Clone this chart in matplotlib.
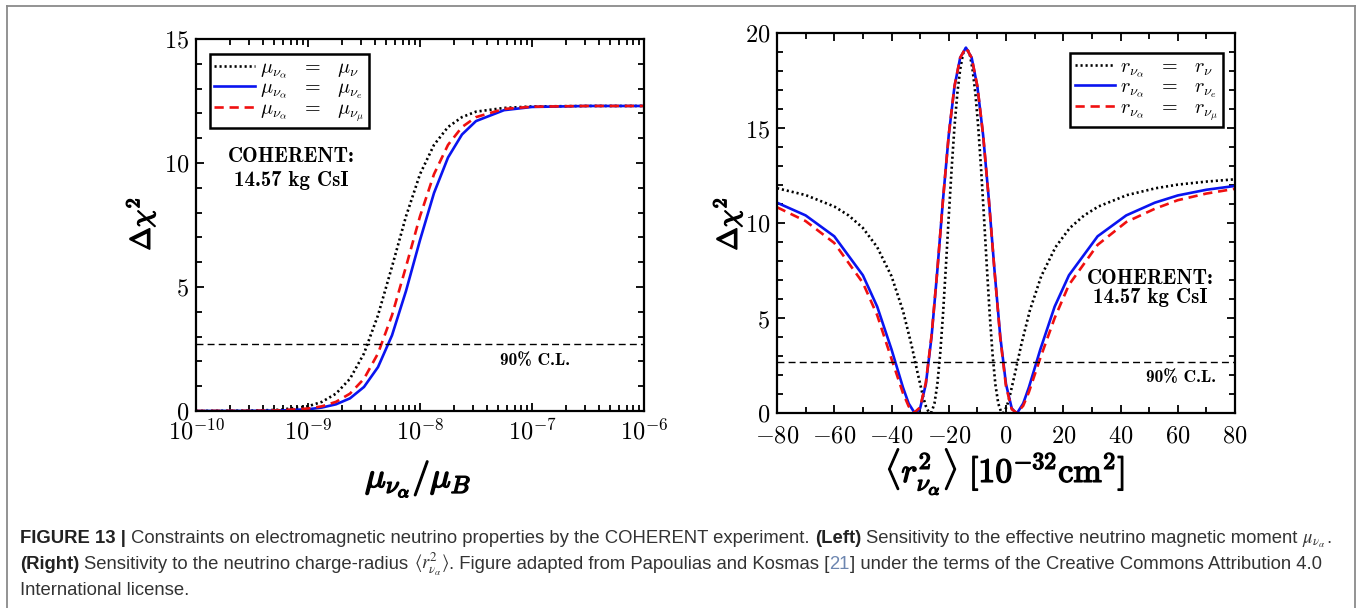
import matplotlib
matplotlib.use("Agg")
import matplotlib.pyplot as plt
import matplotlib.patheffects as pe
from matplotlib.ticker import FixedLocator, FuncFormatter, MultipleLocator, NullFormatter
import numpy as np

plt.rcParams['mathtext.fontset'] = 'cm'
plt.rcParams['font.family'] = ['DejaVu Serif']

# ---------------- data: magnetic moment sensitivity ----------------
mu_log10 = [-10.0, -9.5, -9.25, -9.0, -8.875, -8.75, -8.625, -8.5, -8.375, -8.25,
            -8.125, -8.0, -7.875, -7.75, -7.625, -7.5, -7.25, -7.0, -6.5, -6.0]
chi2_mu_nu = [0.0, 0.013, 0.05, 0.19, 0.37, 0.70, 1.30, 2.32, 3.86, 5.82,
              7.85, 9.55, 10.73, 11.45, 11.85, 12.07, 12.22, 12.28, 12.3, 12.3]
chi2_mu_e = [0.0, 0.005, 0.02, 0.07, 0.14, 0.27, 0.51, 0.97, 1.77, 3.05,
             4.84, 6.89, 8.79, 10.22, 11.15, 11.69, 12.13, 12.26, 12.3, 12.3]
chi2_mu_mu = [0.0, 0.007, 0.025, 0.10, 0.19, 0.37, 0.70, 1.30, 2.32, 3.86,
              5.82, 7.85, 9.55, 10.73, 11.45, 11.85, 12.18, 12.27, 12.3, 12.3]

# ---------------- data: charge radius sensitivity ----------------
r2_nu = [-80, -70, -60, -55, -50, -45, -40, -36, -33, -31, -29, -28, -27, -26.5, -26,
         -25, -24, -23, -22, -21, -20, -19, -18, -17, -16, -15, -13.85, -12.7, -11.7,
         -10.7, -9.7, -8.7, -7.7, -6.7, -5.7, -4.7, -3.7, -2.7, -1.7, -1.2, -0.7, 0.3,
         1.3, 3.3, 5.3, 8.3, 12.3, 17.3, 22.3, 27.3, 32.3, 42.3, 52.3, 60, 70, 80]
chi2_r_nu = [11.83, 11.47, 10.87, 10.4, 9.74, 8.73, 7.2, 5.38, 3.57, 2.19, 0.88, 0.36,
             0.045, 0.0, 0.05, 0.5, 1.49, 3.09, 5.21, 7.71, 10.34, 12.84, 15.06, 16.83,
             18.1, 18.92, 19.23, 18.92, 18.1, 16.83, 15.06, 12.84, 10.34, 7.71, 5.21,
             3.09, 1.49, 0.5, 0.05, 0.0, 0.045, 0.36, 0.88, 2.19, 3.57, 5.38, 7.2, 8.73,
             9.74, 10.4, 10.87, 11.47, 11.83, 12.02, 12.18, 12.3]

r2_e = [-80, -70, -60, -50, -45, -40, -38, -36, -34, -32, -31.5, -30, -28, -26, -24,
        -22, -20, -18, -16, -14, -12, -10, -8, -6, -4, -2, 0, 2, 3.5, 4, 6, 8, 10, 12,
        17, 22, 32, 42, 52, 60, 70, 80]
chi2_r_e = [11.07, 10.4, 9.3, 7.25, 5.6, 3.35, 2.35, 1.35, 0.5, 0.025, 0.0, 0.25, 1.52,
            4.02, 7.48, 11.24, 14.63, 17.18, 18.7, 19.23, 18.7, 17.18, 14.63, 11.24,
            7.48, 4.02, 1.52, 0.25, 0.0, 0.025, 0.5, 1.35, 2.35, 3.35, 5.6, 7.25, 9.3,
            10.4, 11.07, 11.45, 11.75, 11.95]

r2_mu = [-80, -70, -60, -50, -45, -40, -38, -36, -34, -32.2, -30, -28, -26, -24, -22,
         -20, -18, -16, -14, -12, -10, -8, -6, -4, -2, 0, 2, 3.8, 6, 8, 10, 12, 17, 22,
         32, 42, 52, 60, 70, 80]
chi2_r_mu = [10.83, 10.1, 8.95, 6.85, 5.15, 2.85, 1.95, 1.05, 0.35, 0.0, 0.3, 1.6, 4.1,
             7.5, 11.25, 14.65, 17.2, 18.7, 19.23, 18.7, 17.2, 14.65, 11.25, 7.45, 3.95,
             1.4, 0.2, 0.0, 0.38, 1.1, 2.0, 2.9, 5.0, 6.75, 8.85, 10.05, 10.75, 11.2,
             11.55, 11.8]

cl90 = 2.71

eq = r'\ \;\,=\ \;\,'
mu_labels = [r'$\mu_{\nu_\alpha}' + eq + r'\mu_{\nu}$',
             r'$\mu_{\nu_\alpha}' + eq + r'\mu_{\nu_e}$',
             r'$\mu_{\nu_\alpha}' + eq + r'\mu_{\nu_\mu}$']
r_labels = [r'$r_{\nu_\alpha}' + eq + r'r_{\nu}$',
            r'$r_{\nu_\alpha}' + eq + r'r_{\nu_e}$',
            r'$r_{\nu_\alpha}' + eq + r'r_{\nu_\mu}$']

# ---------------- figure layout (pixel based) ----------------
W, H = 1357, 608
fig = plt.figure(figsize=(W / 100, H / 100), dpi=100)


def rect(x0, y0, x1, y1):
    return [x0 / W, 1 - y1 / H, (x1 - x0) / W, (y1 - y0) / H]


def fx(x):
    return x / W


def fy(y):
    return 1 - y / H


axL = fig.add_axes(rect(196, 39, 644, 411))
axR = fig.add_axes(rect(777, 33, 1235, 413))

dot = dict(color='black', lw=1.9, ls=(0, (0.8, 1.1)))
solid = dict(color='#0a14f0', lw=1.9, ls='-')
dash = dict(color='#f01010', lw=1.9, ls=(0, (3.5, 2.2)))

mu_vals = [10.0 ** v for v in mu_log10]
axL.plot(mu_vals, chi2_mu_nu, label=mu_labels[0], **dot)
axL.plot(mu_vals, chi2_mu_e, label=mu_labels[1], **solid)
axL.plot(mu_vals, chi2_mu_mu, label=mu_labels[2], **dash)
axL.axhline(cl90, color='black', lw=1.0, ls=(0, (5, 3)))
axL.set_xscale('log')
axL.set_xlim(1e-10, 1e-6)
axL.set_ylim(0, 15)

axR.plot(r2_nu, chi2_r_nu, label=r_labels[0], **dot)
axR.plot(r2_e, chi2_r_e, label=r_labels[1], **solid)
axR.plot(r2_mu, chi2_r_mu, label=r_labels[2], **dash)
axR.axhline(cl90, color='black', lw=1.0, ls=(0, (5, 3)))
axR.set_xlim(-80, 80)
axR.set_ylim(0, 20)

tick_fs = 17.5
for ax in (axL, axR):
    for s in ax.spines.values():
        s.set_linewidth(1.6)
    ax.tick_params(which='both', direction='in', top=True, right=True, width=1.3,
                   labelsize=tick_fs)
    ax.tick_params(which='major', length=6)
    ax.tick_params(which='minor', length=4)
    ax.tick_params(axis='y', pad=5)
axL.tick_params(axis='x', pad=5.5)
axR.tick_params(axis='x', pad=8)

axL.xaxis.set_major_locator(FixedLocator([1e-10, 1e-9, 1e-8, 1e-7, 1e-6]))
axL.xaxis.set_major_formatter(FuncFormatter(lambda v, p: r'$10^{%d}$' % round(np.log10(v))))
minors = [m * 10.0 ** e for e in range(-10, -6) for m in range(2, 10)]
axL.xaxis.set_minor_locator(FixedLocator(minors))
axL.xaxis.set_minor_formatter(NullFormatter())
axL.yaxis.set_major_locator(MultipleLocator(5))
axL.yaxis.set_minor_locator(MultipleLocator(1))

axR.xaxis.set_major_locator(MultipleLocator(20))
axR.xaxis.set_minor_locator(MultipleLocator(10))
axR.yaxis.set_major_locator(MultipleLocator(5))
axR.yaxis.set_minor_locator(MultipleLocator(1))
int_fmt = FuncFormatter(lambda v, p: r'$%d$' % round(v))
for ax in (axL, axR):
    ax.yaxis.set_major_formatter(int_fmt)
axR.xaxis.set_major_formatter(int_fmt)


# axis labels, emboldened with a thin outline stroke
def heavy(w):
    return [pe.withStroke(linewidth=w, foreground='black')]


fig.text(fx(418), fy(479), r'$\mu_{\nu_\alpha}/\mu_B$', fontsize=25, ha='center',
         va='center', path_effects=heavy(1.1))
fig.text(fx(1005), fy(472), r'$\langle r^2_{\nu_\alpha} \rangle\ [10^{-32}\mathrm{cm}^2]$',
         fontsize=24.5, ha='center', va='center', path_effects=heavy(1.0))
for x in (140, 727):
    fig.text(fx(x), fy(224), r'$\Delta\chi^2$', fontsize=20, rotation=90, ha='center',
             va='center', path_effects=heavy(1.0))

# legends
leg_kw = dict(fontsize=14.5, frameon=True, fancybox=False, framealpha=1, edgecolor='black',
              borderaxespad=0, handlelength=2.0, handletextpad=0.25, labelspacing=-0.12,
              borderpad=0.22)
legL = axL.legend(loc='upper left', bbox_to_anchor=((210 - 196) / 448, 1 - (54 - 39) / 372),
                  **leg_kw)
legR = axR.legend(loc='upper right', bbox_to_anchor=((1223 - 777) / 458, 1 - (53 - 33) / 380),
                  **leg_kw)
for lg in (legL, legR):
    lg.get_frame().set_linewidth(1.8)

# in-panel annotations
bold_serif = 'cmb10'
ann = dict(family=bold_serif, ha='center', va='center')
fig.text(fx(291), fy(156), 'COHERENT:', fontsize=15, **ann)
fig.text(fx(291), fy(180), '14.57 kg CsI', fontsize=15, **ann)
fig.text(fx(1150), fy(278), 'COHERENT:', fontsize=15, **ann)
fig.text(fx(1150), fy(298), '14.57 kg CsI', fontsize=15, **ann)
fig.text(fx(535), fy(361), '90% C.L.', fontsize=12.5, **ann)
fig.text(fx(1181), fy(378), '90% C.L.', fontsize=12.5, **ann)

# outer frame lines
frame_col = '#8a8a8a'
fig.add_artist(plt.Line2D([fx(7), fx(1355)], [fy(6), fy(6)], color=frame_col, lw=1.3))
fig.add_artist(plt.Line2D([fx(7), fx(7)], [fy(6), fy(608)], color=frame_col, lw=1.3))
fig.add_artist(plt.Line2D([fx(1355), fx(1355)], [fy(6), fy(608)], color=frame_col, lw=1.3))

# ---------------- caption ----------------
cap_col = '#333333'
sans = 'Liberation Sans'
renderer = fig.canvas.get_renderer()

line1 = [("FIGURE 13 |", dict(weight='bold', color='#222222'), True),
         ("Constraints on electromagnetic neutrino properties by the COHERENT experiment.", {}, True),
         ("(Left)", dict(weight='bold', color='#222222'), True),
         ("Sensitivity to the effective neutrino magnetic moment", {}, True),
         (r'$\mu_{\nu_\alpha}$', dict(math_fontfamily='stix'), False),
         (".", {}, False)]
line2 = [("(Right)", dict(weight='bold', color='#222222'), True),
         ("Sensitivity to the neutrino charge-radius", {}, True),
         (r'$\langle r^2_{\nu_\alpha}\rangle$', dict(math_fontfamily='stix'), False),
         (". Figure adapted from Papoulias and Kosmas [", {}, False),
         ("21", dict(color='#6d86b0'), False),
         ("] under the terms of the Creative Commons Attribution 4.0", {}, False)]
line3 = [("International license.", {}, False)]


def space_width(size):
    a = fig.text(0, 0, "a a", fontsize=size, family=sans)
    b = fig.text(0, 0, "aa", fontsize=size, family=sans)
    w = a.get_window_extent(renderer).width - b.get_window_extent(renderer).width
    a.remove()
    b.remove()
    return w


def draw_line(runs, x0, y, size):
    sw = space_width(size)
    x = x0
    texts = []
    for txt, kw, gap in runs:
        opts = dict(color=cap_col)
        opts.update(kw)
        t = fig.text(fx(x), fy(y), txt, fontsize=size, family=sans, ha='left',
                     va='baseline', **opts)
        texts.append(t)
        x += t.get_window_extent(renderer).width + (sw if gap else 0)
    return texts, x


probe, end = draw_line(line1, 20, 543, 10)
for t in probe:
    t.remove()
cap_fs = 10 * (1340 - 20) / (end - 20)
draw_line(line1, 20, 543, cap_fs)
draw_line(line2, 20, 569, cap_fs)
draw_line(line3, 20, 595, cap_fs)

fig.savefig('out.png', dpi=100)
